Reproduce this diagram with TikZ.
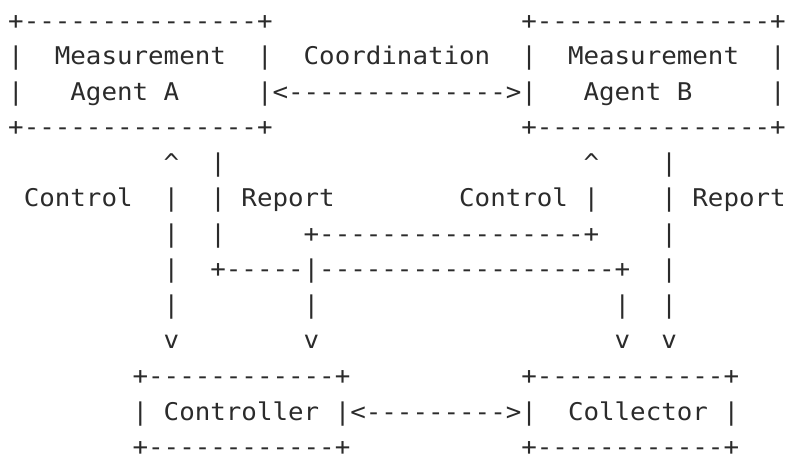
\documentclass[tikz,border=0pt]{standalone}
\usepackage{fontspec}
\usepackage{xcolor}
\newfontfamily\asciifont[FakeStretch=1.0587]{DejaVu Sans Mono}
\definecolor{ink}{HTML}{2B2B2B}
\begin{document}
\begin{tikzpicture}[x=1pt,y=-1pt,
  asc/.style={anchor=base west,inner sep=0pt,outer sep=0pt,text depth=0pt,
              text=ink,font=\asciifont\fontsize{24.4pt}{30pt}\selectfont}]
\useasboundingbox (0,0) rectangle (790,456);
% character grid: column c starts at 8.2+15.55c, row r has its baseline at 29+35.55r
\newcommand\cell[4]{\node[asc] (#1) at ({8.2+15.55*#2},{29+35.55*#3}) {#4};}
% Measurement Agent A
\cell{aTop}{0}{0}{+---------------+}
\cell{aL1}{0}{1}{|}
\cell{aName}{3}{1}{Measurement}
\cell{aR1}{16}{1}{|}
\cell{aL2}{0}{2}{|}
\cell{aName2}{4}{2}{Agent A}
\cell{aBot}{0}{3}{+---------------+}
% Coordination link
\cell{coordLbl}{19}{1}{Coordination}
\cell{coordArrow}{16}{2}{|<-------------->|}
% Measurement Agent B
\cell{bTop}{33}{0}{+---------------+}
\cell{bL1}{33}{1}{|}
\cell{bName}{36}{1}{Measurement}
\cell{bR1}{49}{1}{|}
\cell{bName2}{37}{2}{Agent B}
\cell{bR2}{49}{2}{|}
\cell{bBot}{33}{3}{+---------------+}
% control and report lines
\cell{aCtlHead}{10}{4}{\textasciicircum}
\cell{aRep4}{13}{4}{|}
\cell{bCtlHead}{37}{4}{\textasciicircum}
\cell{bRep4}{42}{4}{|}
\cell{aCtlLbl}{1}{5}{Control}
\cell{aCtl5}{10}{5}{|}
\cell{aRep5}{13}{5}{|}
\cell{aRepLbl}{15}{5}{Report}
\cell{bCtlLbl}{29}{5}{Control}
\cell{bCtl5}{37}{5}{|}
\cell{bRep5}{42}{5}{|}
\cell{bRepLbl}{44}{5}{Report}
\cell{aCtl6}{10}{6}{|}
\cell{aRep6}{13}{6}{|}
\cell{bCtlRun}{19}{6}{+-----------------+}
\cell{bRep6}{42}{6}{|}
\cell{aCtl7}{10}{7}{|}
\cell{aRepRun}{13}{7}{+-----|-------------------+}
\cell{bRep7}{42}{7}{|}
\cell{aCtl8}{10}{8}{|}
\cell{bCtl8}{19}{8}{|}
\cell{aRep8}{39}{8}{|}
\cell{bRep8}{42}{8}{|}
\cell{aCtlTip}{10}{9}{v}
\cell{bCtlTip}{19}{9}{v}
\cell{aRepTip}{39}{9}{v}
\cell{bRepTip}{42}{9}{v}
% Controller
\cell{ctrlTop}{8}{10}{+------------+}
\cell{ctrlL}{8}{11}{|}
\cell{ctrlName}{10}{11}{Controller}
\cell{ctrlBot}{8}{12}{+------------+}
% Controller <-> Collector link
\cell{ccArrow}{21}{11}{|<--------->|}
% Collector
\cell{collTop}{33}{10}{+------------+}
\cell{collName}{36}{11}{Collector}
\cell{collR}{46}{11}{|}
\cell{collBot}{33}{12}{+------------+}
\end{tikzpicture}
\end{document}
